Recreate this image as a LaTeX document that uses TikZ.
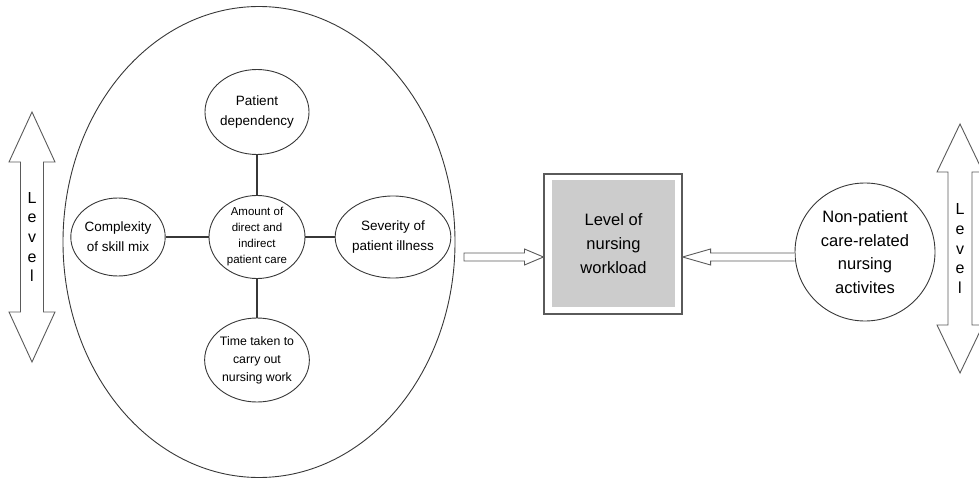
\documentclass[tikz,border=0pt]{standalone}
\usepackage{fontspec}
\setmainfont{Liberation Sans}
\usepackage{xcolor}
\usepackage{tikz}
\usetikzlibrary{positioning,shapes,calc}
\definecolor{boxgray}{RGB}{204,204,204}
\definecolor{inkgray}{RGB}{55,55,55}
\definecolor{arrowgray}{RGB}{90,90,90}

\begin{document}
\begin{tikzpicture}[x=1pt,y=-1pt,
							bubble/.style = {ellipse, draw=inkgray, line width=0.9pt, inner sep=0pt, align=center, minimum width=94pt, minimum height=84pt, font=\fontsize{13.5}{20}\selectfont},
							hollow/.style = {draw=arrowgray, line width=0.9pt, fill=white, line join=miter},
							level/.style = {align=center, inner sep=0pt, font=\fontsize{16}{19.7}\selectfont}]
			\useasboundingbox (0,0) rectangle (979,481);
			% level arrows at both sides
			\coordinate (lvl1) at (32,237);
			\coordinate (lvl2) at (960,248.5);
			\draw[hollow, shift={(lvl1)}] (0,-125) -- (23,-75) -- (11.5,-75) -- (11.5,75) -- (23,75) -- (0,125) -- (-23,75) -- (-11.5,75) -- (-11.5,-75) -- (-23,-75) -- cycle;
			\draw[hollow, shift={(lvl2)}] (0,-124.5) -- (23,-76.5) -- (12,-76.5) -- (12,76.5) -- (23,76.5) -- (0,124.5) -- (-23,76.5) -- (-12,76.5) -- (-12,-76.5) -- (-23,-76.5) -- cycle;
			\node[level] (lvltxt1) at (lvl1) {L\\e\\v\\e\\l};
			\node[level] (lvltxt2) at (lvl2) {L\\e\\v\\e\\l};
			
			% patient care factors
			\node[ellipse, draw=inkgray, line width=0.9pt, minimum width=392pt, minimum height=471pt] (oval) at (259,242) {};
			\node[bubble, minimum width=96pt, minimum height=82pt, font=\fontsize{11.5}{16}\selectfont] (care) at (257,237) {Amount of\\direct and\\indirect\\patient care};
			\node[bubble, minimum height=85pt] (dep) at (257,112) {Patient\\dependency};
			\node[bubble, minimum height=78pt] (skill) at (118,237) {Complexity\\of skill mix};
			\node[bubble, minimum width=92pt, minimum height=82pt] (sev) at (393,237) {Severity of\\patient illness};
			\node[bubble, font=\fontsize{12.3}{18}\selectfont] (time) at (257,360) {Time taken to\\carry out\\nursing work};
			
			\draw[-,line width=1.3pt,draw=inkgray] (care.north) to (dep.south);
			\draw[-,line width=1.3pt,draw=inkgray] (care.west) to (skill.east);
			\draw[-,line width=1.3pt,draw=inkgray] (care.east) to (sev.west);
			\draw[-,line width=1.3pt,draw=inkgray] (care.south) to (time.north);
			
			% workload box
			\node[draw=arrowgray, line width=1.1pt, minimum width=138pt, minimum height=140pt] (frame) at (613,244) {};
			\node[fill=boxgray, inner sep=0pt, minimum width=123pt, minimum height=127pt, align=center, font=\fontsize{16.5}{24}\selectfont] (load) at (613.5,243.5) {Level of\\nursing\\workload};
			
			% non-patient activities
			\node[bubble, minimum width=140pt, minimum height=138pt, font=\fontsize{16.5}{23.5}\selectfont] (nonp) at (865,252) {Non-patient\\care-related\\nursing\\activites};
			
			% hollow arrows into the box
			\coordinate (tail1) at (464,257);
			\coordinate (tip1) at (frame.west |- tail1);
			\coordinate (tip2) at (frame.east |- tail1);
			\coordinate (tail2) at (nonp.west |- tail1);
			\draw[hollow] ($(tail1)+(0,-4)$) -- ($(tip1)+(-19,-4)$) -- ($(tip1)+(-19,-8)$) -- (tip1) -- ($(tip1)+(-19,8)$) -- ($(tip1)+(-19,4)$) -- ($(tail1)+(0,4)$) -- cycle;
			\draw[hollow] ($(tail2)+(0,-4)$) -- ($(tip2)+(28,-4)$) -- ($(tip2)+(28,-8)$) -- (tip2) -- ($(tip2)+(28,8)$) -- ($(tip2)+(28,4)$) -- ($(tail2)+(0,4)$);
		\end{tikzpicture}
\end{document}
